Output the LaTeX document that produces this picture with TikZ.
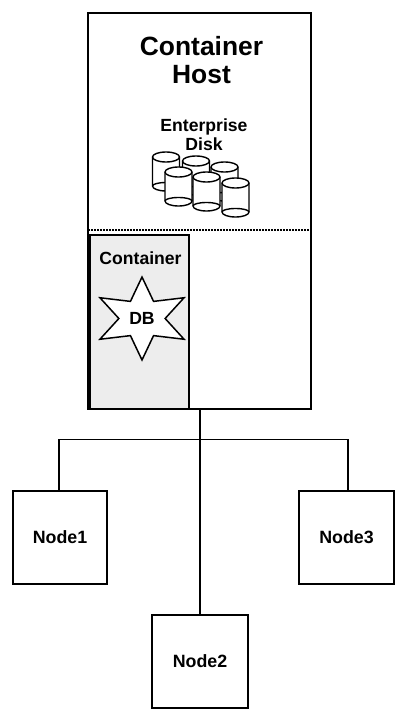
\documentclass[tikz,border=0pt]{standalone}
\usepackage{fontspec}
\setmainfont{Liberation Sans}
\usetikzlibrary{shapes.geometric}
\definecolor{containergray}{HTML}{EDEDED}
\tikzset{
	boxnode/.style={draw=black, line width=1.6pt, inner sep=0pt, outer sep=0pt, font=\fontsize{17.8}{19}\selectfont\bfseries, align=center},
	textnode/.style={inner sep=0pt, outer sep=0pt, font=\fontsize{17.6}{19}\selectfont\bfseries, align=center},
	diskline/.style={draw=black, line width=1.4pt, fill=white},
	wire/.style={draw=black, line width=1.8pt}
}
\begin{document}
\begin{tikzpicture}[x=1pt, y=-1pt]
	\useasboundingbox (0, 0) rectangle (405, 719);
	\node [boxnode, minimum width=223pt, minimum height=396pt] (host) at (199.5, 211) {};
	\node [textnode, font=\fontsize{26.4}{28}\selectfont\bfseries] (hostlabel) at (201.5, 60) {Container\\Host};
	\node [textnode] (disklabel) at (204, 134.5) {Enterprise\\Disk};
	% disks, back row first
	\foreach \diskx/\disky in {166/157, 196/161, 224.5/167, 178.5/172, 206.5/177, 235.5/183} {
		\filldraw [diskline]
		(\diskx-13.5, \disky) --
		(\diskx-13.5, \disky+29) arc [start angle=180, end angle=360, x radius=13.5pt, y radius=5pt] --
		(\diskx+13.5, \disky) arc [start angle=0, end angle=180, x radius=13.5pt, y radius=5pt] --
		cycle;
		\draw [diskline, fill=none]
		(\diskx-13.5, \disky) arc [start angle=180, end angle=360, x radius=13.5pt, y radius=5pt];
		\draw [diskline, fill=none]
		(\diskx-13.5, \disky+29) arc [start angle=180, end angle=0, x radius=13.5pt, y radius=3.5pt];
	}
	% separator
	\coordinate (sepleft) at (88, 230);
	\coordinate (sepright) at (311, 230);
	\draw [line width=1.6pt, dash pattern=on 1.5pt off 1.5pt] (sepleft) -- (sepright);
	\node [boxnode, fill=containergray, minimum width=99pt, minimum height=174pt] (container) at (139.5, 322) {};
	\node [textnode] (containerlabel) at (140.5, 258) {Container};
	\node [draw=black, line width=1.5pt, fill=white, star, star points=6, star point ratio=2.1, minimum size=83pt, inner sep=0pt, outer sep=0pt, xscale=1.17] (dbstar) at (142, 318.5) {};
	\node [textnode] (db) at (dbstar) {DB};
	\node [boxnode, minimum width=94pt, minimum height=93pt] (node1) at (60, 537.5) {Node1};
	\node [boxnode, minimum width=96pt, minimum height=93pt] (node2) at (200, 661.5) {Node2};
	\node [boxnode, minimum width=95pt, minimum height=93pt] (node3) at (346.5, 537.5) {Node3};
	% wiring
	\coordinate (bus) at (200, 439.5);
	\coordinate (hosttap) at (200, 409);
	\draw [line width=2.8pt] (hosttap) -- (bus);
	\draw [wire] (bus) -- (node2.north);
	\draw [wire] ([xshift=-1pt]node1.north) |- (bus);
	\draw [wire] ([xshift=1.5pt]node3.north) |- (bus);
\end{tikzpicture}
\end{document}
